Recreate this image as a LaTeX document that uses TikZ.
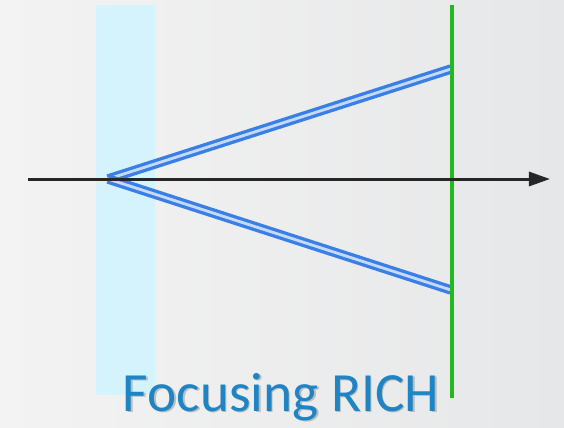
\documentclass[tikz,border=0pt]{standalone}
\usepackage{fontspec}
\setmainfont{Carlito}
\usetikzlibrary{arrows.meta}
\definecolor{bgl}{HTML}{F3F3F3}
\definecolor{bgr}{HTML}{E6E7E8}
\definecolor{slab}{HTML}{D5F3FD}
\definecolor{det}{HTML}{22B822}
\definecolor{ray}{HTML}{3A7FE6}
\definecolor{rayin}{HTML}{C4DAF8}
\definecolor{title}{HTML}{1E84C4}
\tikzset{
  raystyle/.style={draw=ray, line width=1.9pt, double=rayin, double distance=1.6pt},
  axisstyle/.style={draw=black!85, line width=1.7pt, -{Triangle[length=12pt,width=8pt]}},
  titlestyle/.style={font=\fontsize{31.5}{36}\selectfont, text=title, inner sep=0pt},
}
\begin{document}
\begin{tikzpicture}[x=0.02cm,y=-0.02cm]
\shade[left color=bgl, right color=bgr] (0,0) rectangle (564,427);
\useasboundingbox (0,0) rectangle (564,427);
\fill[slab] (96,5) rectangle (155,395);
\coordinate (apex) at (108,179);
\coordinate (up) at (451,69);
\coordinate (lo) at (451,290);
\coordinate (dtop) at (452,5);
\coordinate (dbot) at (452,398);
\coordinate (axs) at (28,179);
\coordinate (axe) at (550,179);
\draw[raystyle] (apex) -- (up);
\draw[raystyle] (apex) -- (lo);
\draw[det, line width=1.8pt] (dtop) -- (dbot);
\draw[axisstyle] (axs) -- (axe);
\node[titlestyle, text=black!45, opacity=0.5] (shadow) at (282.5,398.5) {Focusing RICH};
\node[titlestyle] (t) at (281,397) {Focusing RICH};
\end{tikzpicture}
\end{document}
